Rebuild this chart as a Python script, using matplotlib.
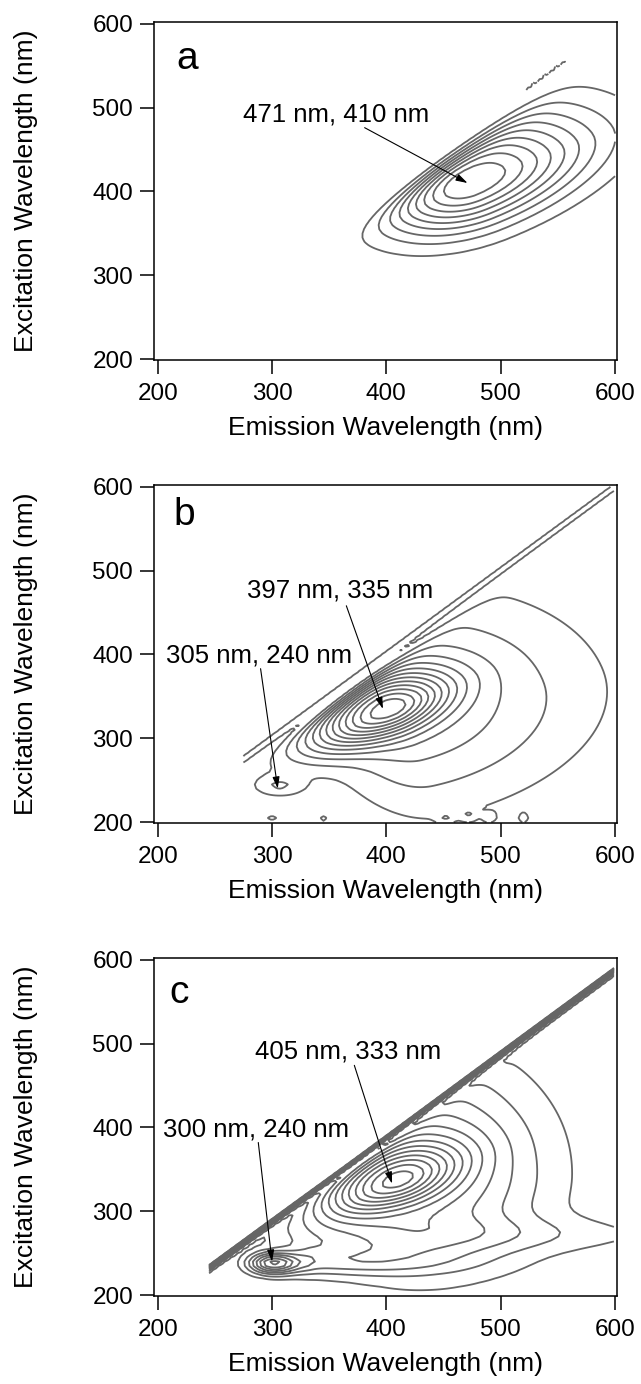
import numpy as np
import matplotlib.pyplot as plt

plt.rcParams['font.family'] = ['Liberation Sans', 'DejaVu Sans']

# scan grid of the fluorometer (nm)
ex_start, ex_stop, ex_step = 200, 600, 5
em_step = 2

# EEM components
# columns: em, ex, height, axis slope, width along axis (-/+), width across axis (-/+)
a_peaks = [
    (471, 410, 1.00, 0.55, 55, 80, 35, 45),
]
b_peaks = [
    (400, 334, 0.72, 0.60, 55, 42, 20, 25),
    (415, 330, 0.28, 0.30, 50, 110, 78, 90),
    (306, 243, 0.13, 0.00, 16, 16, 9, 9),
    (300, 205, 0.09, 0.00, 5, 5, 4, 4),
    (345, 204, 0.08, 0.00, 3, 3, 4, 4),
    (452, 206, 0.09, 0.00, 5, 5, 4, 4),
    (472, 209, 0.09, 0.00, 5, 5, 5, 5),
    (490, 206, 0.09, 0.00, 4, 4, 4, 4),
    (520, 205, 0.09, 0.00, 3, 3, 4, 4),
]
c_peaks = [
    (405, 335, 0.60, 0.55, 50, 42, 20, 24),
    (430, 345, 0.38, 0.00, 60, 72, 75, 90),
    (460, 272, 0.10, 0.00, 120, 150, 15, 15),
    (301, 238, 0.55, 0.00, 15, 15, 9, 9),
    (335, 240, 0.20, 0.00, 15, 80, 12, 14),
]

# Rayleigh scatter along ex = em: height, width, first em, last em, cut above line
a_scatter = (0.12, 3, 522, 556, 2)
b_scatter = (0.10, 5, 275, 600, 9)
c_scatter = (2.0, 7, 245, 600, 2)

# fall-off of the signal towards the scatter line (nm)
a_taper, b_taper, c_taper = 25, 18, 18

# first emission wavelength recorded
a_em0, b_em0, c_em0 = 250, 275, 245

# contour levels (fraction of max)
a_levels = [0.1, 0.2, 0.3, 0.4, 0.5, 0.6, 0.7, 0.8, 0.9]
b_levels = np.arange(1, 14) / 14
c_levels = np.arange(1, 14) * 0.07

# peak labels: text, text position, arrow start, arrow tip
a_notes = [("471 nm, 410 nm", (356, 492), (381, 476), (471, 410))]
b_notes = [("397 nm, 335 nm", (360, 476), (365, 458), (397, 335)),
           ("305 nm, 240 nm", (289, 399), (290, 383), (305, 240))]
c_notes = [("405 nm, 333 nm", (367, 490), (372, 474), (405, 333)),
           ("300 nm, 240 nm", (286, 398), (288, 382), (300, 240))]

letters = ["a", "b", "c"]
letter_pos = [(226, 558), (223, 566), (219, 560)]


def eem(peaks, scatter, taper, em0):
    em = np.arange(em0, 601, em_step)
    ex = np.arange(ex_start, ex_stop + 1, ex_step)
    EM, EX = np.meshgrid(em, ex)
    z = np.zeros(EM.shape)
    for m, x, h, s, al, ar, cl, cr in peaks:
        n = np.hypot(1, s)
        dx, dy = EM - m, EX - x
        p = (dx + s * dy) / n
        q = (-s * dx + dy) / n
        p = p / np.where(p < 0, al, ar)
        q = q / np.where(q < 0, cl, cr)
        z += h * np.exp(-0.5 * (p**2 + q**2))
    d = np.clip(EM - EX, 0, None)
    z *= 1 - np.exp(-(d / taper) ** 2)
    h, w, lo, hi, cut = scatter
    ridge = h * np.exp(-0.5 * ((EM - EX) / w) ** 2)
    z += np.where((EM >= lo) & (EM <= hi), ridge, 0)
    z = np.ma.masked_where(EX > EM + cut, z)
    return em, ex, z


fig = plt.figure(figsize=(6.41, 13.84), dpi=100)
W, H = 641, 1384
bottoms = [360, 823, 1296]   # px from top
data = [(a_peaks, a_scatter, a_taper, a_em0, a_levels, a_notes),
        (b_peaks, b_scatter, b_taper, b_em0, b_levels, b_notes),
        (c_peaks, c_scatter, c_taper, c_em0, c_levels, c_notes)]

for i, (peaks, scat, tap, em0, levels, notes) in enumerate(data):
    ax = fig.add_axes([154 / W, 1 - bottoms[i] / H, 463 / W, 338 / H])
    em, ex, z = eem(peaks, scat, tap, em0)
    ax.contour(em, ex, z, levels=levels, colors='#666666', linewidths=1.3)

    for txt, tpos, tail, tip in notes:
        ax.text(*tpos, txt, fontsize=18.5, ha='center', va='center')
        ax.annotate('', xy=tip, xytext=tail,
                    arrowprops=dict(arrowstyle='-|>,head_length=0.5,head_width=0.15',
                                    color='k', lw=0.8, mutation_scale=14,
                                    shrinkA=0, shrinkB=0))
    ax.text(*letter_pos[i], letters[i], fontsize=28, ha='center', va='center')

    ax.set_xlim(196.8, 601.7)
    ax.set_ylim(199, 602)
    ax.set_xticks([200, 300, 400, 500, 600])
    ax.set_yticks([200, 300, 400, 500, 600])
    ax.tick_params(direction='out', length=10, width=1.1, labelsize=17.5)
    ax.tick_params(axis='x', pad=6.5)
    ax.tick_params(axis='y', pad=5)
    for s in ax.spines.values():
        s.set_linewidth(1.1)
    ax.set_xlabel("Emission Wavelength (nm)", fontsize=19)
    ax.set_ylabel("Excitation Wavelength (nm)", fontsize=19)
    ax.xaxis.set_label_coords(0.5, -0.165)
    ax.yaxis.set_label_coords(-0.2505, 0.5)

fig.savefig("out.png", dpi=100)
